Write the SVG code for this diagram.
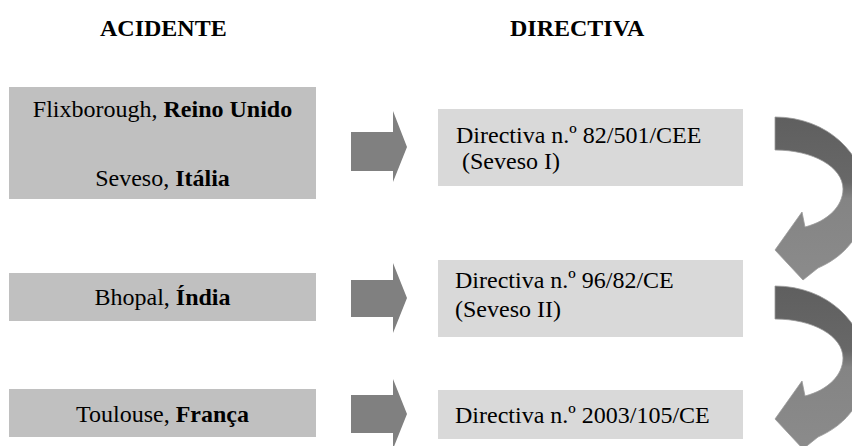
<svg xmlns="http://www.w3.org/2000/svg" width="852" height="446" viewBox="0 0 852 446">
  <style>
    .hdr { font-family: "Liberation Serif", "Times New Roman", serif; font-size: 24px; font-weight: bold; fill: #000; }
    .t { font-family: "Liberation Serif", "Times New Roman", serif; font-size: 24px; fill: #000; }
    .b { font-weight: bold; }
    .acc { fill: #c0c0c0; }
    .dir { fill: #d9d9d9; }
    .blk { fill: #808080; }
    .curve { fill: url(#cg); stroke: #9a9a9a; stroke-width: 0.8; }
  </style>
  <defs>
    <linearGradient id="cg" x1="0" y1="0" x2="0" y2="1">
      <stop offset="0" stop-color="#5f5f5f"/>
      <stop offset="0.4" stop-color="#686868"/>
      <stop offset="0.5" stop-color="#848484"/>
      <stop offset="1" stop-color="#8b8b8b"/>
    </linearGradient>
    <path id="carrow" d="M775 117 C827 117 866 154 866 198 C866 230 848 255 818 268 L803 280 L775 250 L802 212 L805 227 C828 221 843 206 843 189 C843 167 813 150 775 150 Z"/>
  </defs>

  <g id="headers">
    <text class="hdr" x="100" y="36">ACIDENTE</text>
    <text class="hdr" x="510" y="36">DIRECTIVA</text>
  </g>

  <g id="acc1">
    <rect class="acc" x="9" y="87" width="307" height="112"/>
    <text class="t" x="162.5" y="117" text-anchor="middle">Flixborough, <tspan class="b">Reino Unido</tspan></text>
    <text class="t" x="162.5" y="186" text-anchor="middle">Seveso, <tspan class="b">Itália</tspan></text>
  </g>
  <g id="acc2">
    <rect class="acc" x="9" y="273" width="307" height="48"/>
    <text class="t" x="162.5" y="305" text-anchor="middle">Bhopal, <tspan class="b">Índia</tspan></text>
  </g>
  <g id="acc3">
    <rect class="acc" x="9" y="389" width="307" height="48"/>
    <text class="t" x="162.5" y="422" text-anchor="middle">Toulouse, <tspan class="b">França</tspan></text>
  </g>

  <g id="dir1">
    <rect class="dir" x="438" y="109" width="305" height="77"/>
    <text class="t" x="456" y="143">Directiva n.º 82/501/CEE</text>
    <text class="t" x="462" y="169">(Seveso I)</text>
  </g>
  <g id="dir2">
    <rect class="dir" x="438" y="260" width="305" height="77"/>
    <text class="t" x="455" y="288">Directiva n.º 96/82/CE</text>
    <text class="t" x="455" y="317">(Seveso II)</text>
  </g>
  <g id="dir3">
    <rect class="dir" x="438" y="390" width="305" height="49"/>
    <text class="t" x="455" y="423">Directiva n.º 2003/105/CE</text>
  </g>

  <g id="connectors">
    <polygon class="blk" points="351,132 393,132 393,111 407,147 393,182 393,171 351,171"/>
    <polygon class="blk" points="351,280 393,280 393,263 407,298 393,333 393,317 351,317"/>
    <polygon class="blk" points="351,395 393,395 393,379 407,414 393,449 393,433 351,433"/>
    <use class="curve" href="#carrow"/>
    <use class="curve" href="#carrow" transform="translate(0,169)"/>
  </g>
</svg>
